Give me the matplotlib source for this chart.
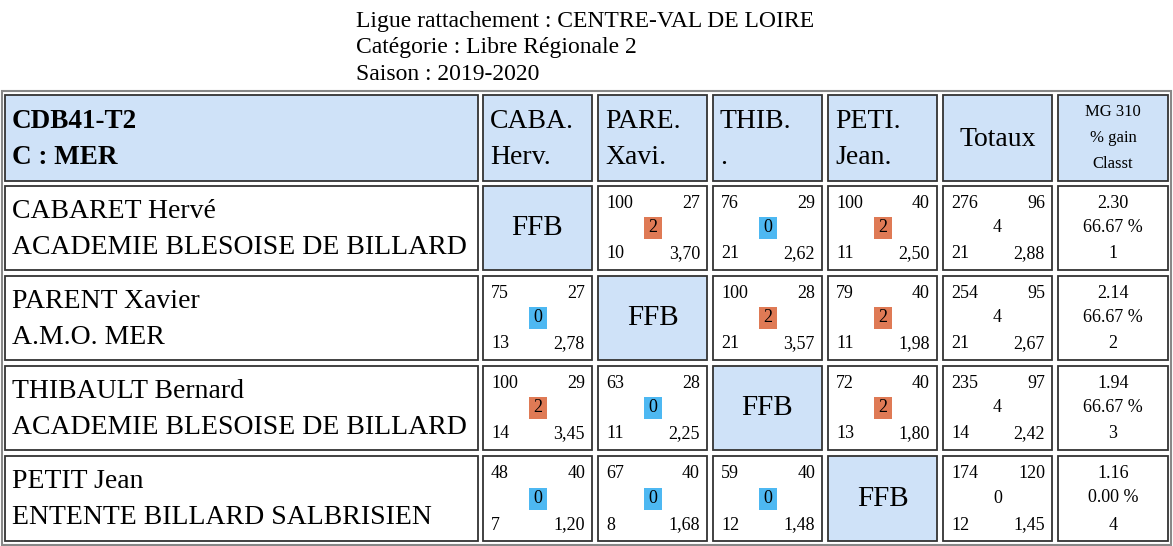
import matplotlib
matplotlib.use("Agg")
import matplotlib.pyplot as plt
from matplotlib.patches import Rectangle

title_lines = ["Ligue rattachement : CENTRE-VAL DE LOIRE", "Catégorie : Libre Régionale 2", "Saison : 2019-2020"]
header_main = ["CDB41-T2", "C : MER"]
col_heads = [["CABA.", "Herv."], ["PARE.", "Xavi."], ["THIB.", "."], ["PETI.", "Jean."]]
players = ["CABARET Hervé", "PARENT Xavier", "THIBAULT Bernard", "PETIT Jean"]
clubs = ["ACADEMIE BLESOISE DE BILLARD", "A.M.O. MER", "ACADEMIE BLESOISE DE BILLARD", "ENTENTE BILLARD SALBRISIEN"]
# match cells: (points, reprises, match points, serie, moyenne); None = FFB
matches = [
    [None, ("100", "27", "2", "10", "3,70"), ("76", "29", "0", "21", "2,62"), ("100", "40", "2", "11", "2,50")],
    [("75", "27", "0", "13", "2,78"), None, ("100", "28", "2", "21", "3,57"), ("79", "40", "2", "11", "1,98")],
    [("100", "29", "2", "14", "3,45"), ("63", "28", "0", "11", "2,25"), None, ("72", "40", "2", "13", "1,80")],
    [("48", "40", "0", "7", "1,20"), ("67", "40", "0", "8", "1,68"), ("59", "40", "0", "12", "1,48"), None],
]
totals = [("276", "96", "4", "21", "2,88"), ("254", "95", "4", "21", "2,67"),
          ("235", "97", "4", "14", "2,42"), ("174", "120", "0", "12", "1,45")]
mg = ["2.30", "2.14", "1.94", "1.16"]
gain = ["66.67 %", "66.67 %", "66.67 %", "0.00 %"]
classt = ["1", "2", "3", "4"]

W, H = 1173, 546
fig = plt.figure(figsize=(W/100, H/100), dpi=100)
ax = fig.add_axes([0, 0, 1, 1])
ax.set_xlim(0, W); ax.set_ylim(H, 0); ax.axis("off")
F = "Liberation Serif"
BLUE = "#CFE2F8"; ORANGE = "#DF7A55"; CYAN = "#4DB8F2"

for i, t in enumerate(title_lines):
    ax.text(356, 21 + 27*i, t, fontsize=17, family=F, va="center", ha="left")

ax.add_patch(Rectangle((1.5, 90.5), 1169, 454, fill=False, ec="#888888", lw=1.5))
cols = [(5, 478), (483, 592), (598, 707), (713, 822), (828, 937), (943, 1052), (1058, 1168)]
rows = [(95, 181), (186, 270), (276, 360), (366, 450), (456, 541)]

def cell(c, r, fc="white"):
    x0, x1 = cols[c]; y0, y1 = rows[r]
    ax.add_patch(Rectangle((x0, y0), x1-x0, y1-y0, fc=fc, ec="#333333", lw=1.3))
    return x0, x1, y0, y1

x0, x1, y0, y1 = cell(0, 0, BLUE)
ax.text(x0+7, 121, header_main[0], fontsize=19.5, family=F, weight="bold", va="center")
ax.text(x0+7, 157, header_main[1], fontsize=19.5, family=F, weight="bold", va="center")
for k, h in enumerate(col_heads):
    x0, x1, y0, y1 = cell(k+1, 0, BLUE)
    ax.text(x0+7, 121, h[0], fontsize=20, family=F, va="center")
    ax.text(x0+7, 157, h[1], fontsize=20, family=F, va="center")
x0, x1, y0, y1 = cell(5, 0, BLUE)
ax.text((x0+x1)/2, 139, "Totaux", fontsize=20, family=F, va="center", ha="center")
x0, x1, y0, y1 = cell(6, 0, BLUE)
for j, t in enumerate(["MG 310", "% gain", "Classt"]):
    ax.text((x0+x1)/2, 112 + 26*j, t, fontsize=12, family=F, va="center", ha="center")

def small(x0, x1, y0, y1, d, badge=True):
    fs = 13
    ax.text(x0+8, y0+17, d[0], fontsize=fs, family=F, va="center")
    ax.text(x1-7, y0+17, d[1], fontsize=fs, family=F, va="center", ha="right")
    cx, cy = (x0+x1)/2, (y0+y1)/2
    if badge:
        ax.add_patch(Rectangle((cx-9, cy-11), 18, 22, fc=ORANGE if d[2] != "0" else CYAN, ec="none"))
    ax.text(cx, cy, d[2], fontsize=fs, family=F, va="center", ha="center")
    ax.text(x0+8, y1-16, d[3], fontsize=fs, family=F, va="center")
    ax.text(x1-7, y1-16, d[4], fontsize=fs, family=F, va="center", ha="right")

for r in range(4):
    x0, x1, y0, y1 = cell(0, r+1)
    ax.text(x0+7, y0+25, players[r], fontsize=20, family=F, va="center")
    ax.text(x0+7, y0+62, clubs[r], fontsize=20, family=F, va="center")
    for c in range(4):
        d = matches[r][c]
        if d is None:
            x0, x1, y0, y1 = cell(c+1, r+1, BLUE)
            ax.text((x0+x1)/2, (y0+y1)/2, "FFB", fontsize=21, family=F, va="center", ha="center")
        else:
            x0, x1, y0, y1 = cell(c+1, r+1)
            small(x0, x1, y0, y1, d)
    x0, x1, y0, y1 = cell(5, r+1)
    small(x0, x1, y0, y1, totals[r], badge=False)
    x0, x1, y0, y1 = cell(6, r+1)
    cx = (x0+x1)/2
    ax.text(cx, y0+17, mg[r], fontsize=13, family=F, va="center", ha="center")
    ax.text(cx, y0+42, gain[r], fontsize=13, family=F, va="center", ha="center")
    ax.text(cx, y1-16, classt[r], fontsize=13, family=F, va="center", ha="center")

fig.savefig("out.png", dpi=100)
